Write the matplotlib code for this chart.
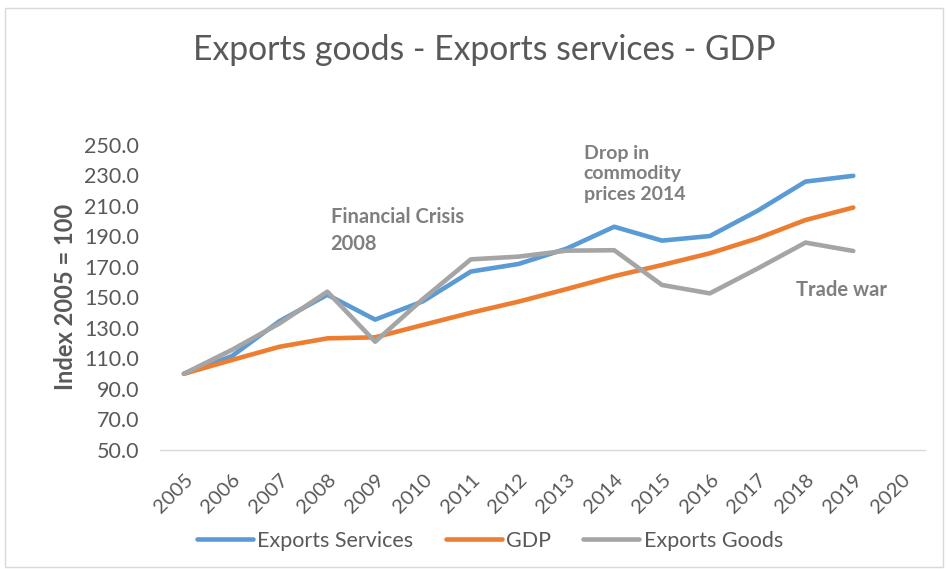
import matplotlib
matplotlib.use("Agg")
import matplotlib.pyplot as plt
from matplotlib.patches import Rectangle

years = [str(y) for y in range(2005, 2021)]
exports_services = [100.0, 111.5, 134.5, 151.8, 135.5, 147.5, 167.0, 172.0, 182.0, 196.4, 187.3, 190.3, 206.9, 226.0, 229.8]
gdp = [100.0, 109.0, 117.7, 123.2, 123.9, 132.0, 140.0, 147.3, 155.5, 164.0, 171.3, 179.0, 188.8, 200.8, 209.0]
exports_goods = [100.0, 115.6, 133.0, 153.8, 121.0, 149.0, 175.0, 176.8, 180.7, 181.0, 158.2, 152.7, 169.0, 186.0, 180.5]
yticks = [50, 70, 90, 110, 130, 150, 170, 190, 210, 230, 250]

FONT = ["Lato", "DejaVu Sans"]
plt.rcParams["font.family"] = FONT
TXT = "#595959"

fig = plt.figure(figsize=(9.46, 5.69), dpi=100)
fig.patches.append(Rectangle((5/946, 1-567/569), 938/946, 559/569, transform=fig.transFigure,
                             fill=False, edgecolor="#D9D9D9", linewidth=1))
ax = fig.add_axes([160/946, 1-450/569, 765/946, 305/569])

x = list(range(len(exports_services)))
ax.plot(x, exports_services, color="#5B9BD5", lw=3.3, solid_capstyle="round", label="Exports Services")
ax.plot(x, gdp, color="#ED7D31", lw=3.3, solid_capstyle="round", label="GDP")
ax.plot(x, exports_goods, color="#A5A5A5", lw=3.3, solid_capstyle="round", label="Exports Goods")

ax.set_xlim(-0.5, len(years) - 0.5)
ax.set_ylim(50, 250)
ax.set_yticks(yticks)
ax.set_yticklabels([f"{v:.1f}" for v in yticks], fontsize=15.5, color=TXT)
ax.set_xticks(range(len(years)))
ax.set_xticklabels(years, rotation=45, ha="right", rotation_mode="anchor", fontsize=14.5, color=TXT)
ax.tick_params(axis="y", length=0, pad=15)
ax.tick_params(axis="x", length=0, pad=15)
for s in ["top", "right", "left"]:
    ax.spines[s].set_visible(False)
ax.spines["bottom"].set_color("#D9D9D9")
ax.spines["bottom"].set_linewidth(1)

ax.set_ylabel("Index 2005 = 100", fontsize=17, color=TXT, fontweight="bold")
ax.yaxis.set_label_coords(77/946, 1-297/569, transform=fig.transFigure)

fig.text(484/946, 1-50/569, "Exports goods - Exports services - GDP", ha="center", va="center",
         fontsize=24.3, color=TXT)

ann_color = "#7F7F7F"
ax.text(3.07, 194, "Financial Crisis\n2008", fontsize=14.5, color=ann_color, fontweight="bold",
        ha="left", va="center", linespacing=1.45)
ax.text(8.36, 231, "Drop in\ncommodity\nprices 2014", fontsize=14, color=ann_color, fontweight="bold",
        ha="left", va="center", linespacing=1.28)
ax.text(12.81, 155, "Trade war", fontsize=14.5, color=ann_color, fontweight="bold", ha="left", va="center")

leg = fig.legend(loc="center", bbox_to_anchor=(490/946, 1-541/569), ncol=3, frameon=False,
                 fontsize=15.5, handlelength=2.6, handletextpad=0.2, columnspacing=1.5)
for t in leg.get_texts():
    t.set_color(TXT)

fig.savefig("out.png", dpi=100)
